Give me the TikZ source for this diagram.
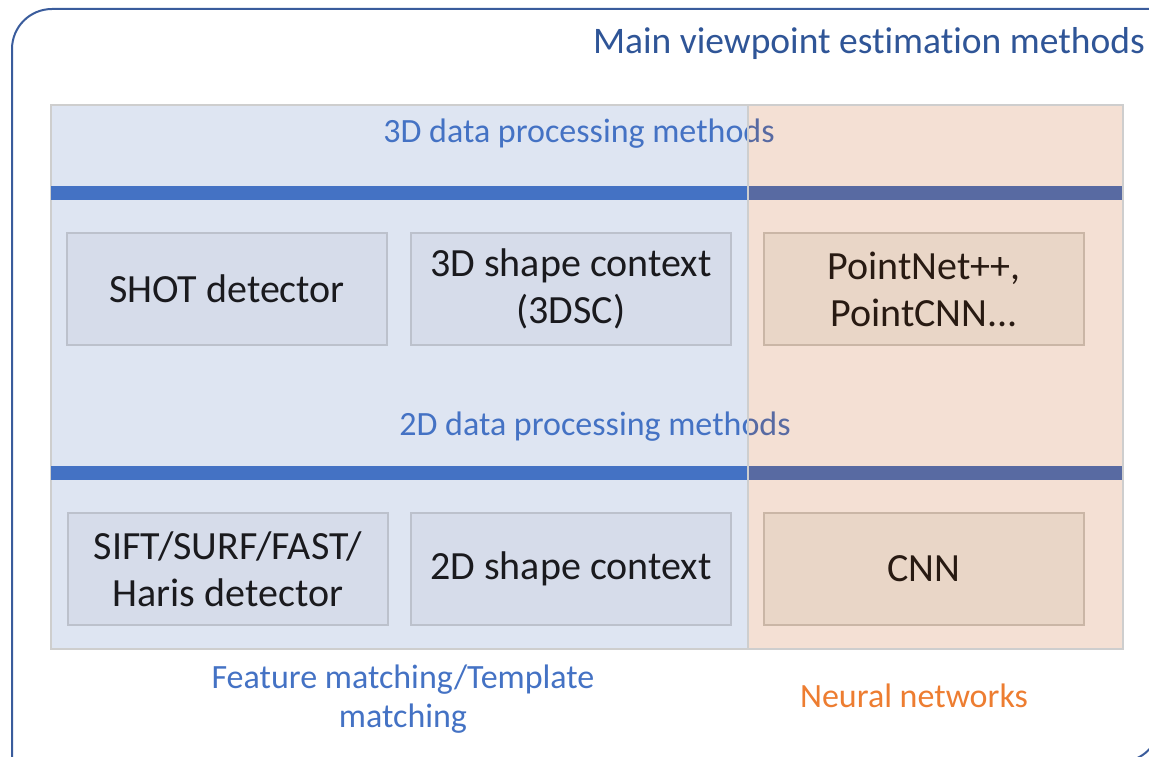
\documentclass[tikz,border=0pt]{standalone}
\usepackage{fontspec}
\setmainfont{Carlito}[Ligatures={NoCommon}]
\definecolor{framec}{RGB}{58,92,156}
\definecolor{titlec}{RGB}{47,85,151}
\definecolor{labelc}{RGB}{68,114,196}
\definecolor{nnc}{RGB}{237,125,49}
\definecolor{bluepanel}{RGB}{222,229,242}
\definecolor{panelborder}{RGB}{206,206,206}
\definecolor{barblue}{RGB}{68,114,196}
\definecolor{overlayc}{RGB}{190,72,0}
\definecolor{bboxfill}{RGB}{214,220,234}
\definecolor{bboxdraw}{RGB}{188,193,204}
\definecolor{oboxfill}{RGB}{233,214,199}
\definecolor{oboxdraw}{RGB}{202,182,166}
\definecolor{boxtext}{RGB}{26,26,30}
\begin{document}
\begin{tikzpicture}[x=1pt,y=-1pt,
  panelbox/.style={draw=panelborder, line width=1.2pt, inner sep=0pt, outer sep=0pt, anchor=north west},
  barbox/.style={fill=barblue, draw=none, inner sep=0pt, outer sep=0pt, anchor=north west, minimum height=14pt},
  bluebox/.style={draw=bboxdraw, fill=bboxfill, line width=1.2pt, inner sep=0pt, outer sep=0pt, anchor=north west,
    minimum width=320pt, minimum height=112pt, align=center, text=boxtext,
    font=\fontsize{40}{47}\selectfont},
  orangebox/.style={bluebox, draw=oboxdraw, fill=oboxfill, text={rgb,255:red,40;green,26;blue,18}},
  seclabel/.style={text=labelc, font=\fontsize{34}{39}\selectfont, inner sep=0pt, anchor=base},
]
\useasboundingbox (0,0) rectangle (1149,757);
\begin{scope}
\clip (0,0) rectangle (1149,757);
\draw[framec, line width=2pt] (12,762) -- (12,49) arc[start angle=180, end angle=270, radius=40]
  -- (1160,9) -- (1160,722) arc[start angle=0, end angle=90, radius=40] -- cycle;
\end{scope}
\node[text=titlec, font=\fontsize{37.5}{40}\selectfont, inner sep=0pt, anchor=base east] (title) at (1145,54) {Main viewpoint estimation methods};
% blue panel
\node[panelbox, fill=bluepanel, minimum width=697pt, minimum height=544pt] (bpanel) at (51,105) {};
% bars
\node[barbox, minimum width=1072pt] (bar3) at (51,186) {};
\node[barbox, minimum width=1072pt] (bar2) at (51,466) {};
% section labels
\node[seclabel] (l3d) at (579,143) {3D data processing methods};
\node[seclabel] (l2d) at (595,435) {2D data processing methods};
% orange overlay panel
\node[panelbox, fill=overlayc, fill opacity=0.17, minimum width=375pt, minimum height=544pt] (opanel) at (748,105) {};
% boxes
\node[bluebox] (shot) at (67,233) {SHOT detector};
\node[bluebox] (sc3d) at (411,233) {3D shape context\\(3DSC)};
\node[orangebox] (pnet) at (764,233) {PointNet++,\\PointCNN...};
\node[bluebox] (sift) at (68,513) {SIFT/SURF/FAST/\\Haris detector};
\node[bluebox] (sc2d) at (411,513) {2D shape context};
\node[orangebox] (cnn) at (764,513) {CNN};
% bottom labels
\node[seclabel, align=center, anchor=base] (feat) at (403,727) {Feature matching/Template\\matching};
\node[seclabel, text=nnc] (nn) at (914,707) {Neural networks};
\end{tikzpicture}
\end{document}
